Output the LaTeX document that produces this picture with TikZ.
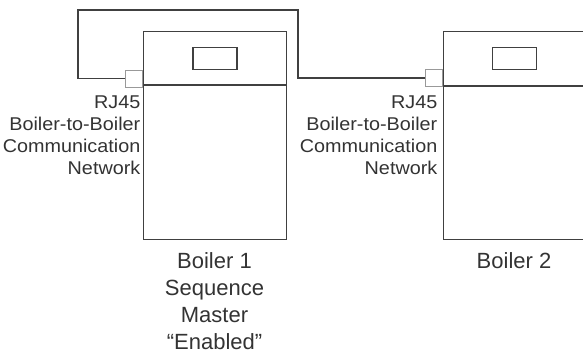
\documentclass[tikz,border=0pt]{standalone}
\usepackage{fontspec}
\setmainfont{Liberation Sans}
\newfontfamily\widesans{Liberation Sans}[FakeStretch=1.07]
\begin{document}
\begin{tikzpicture}[x=1pt,y=-1pt,
  line/.style={draw=black!75,line width=1.3pt},
  boiler/.style={line,rectangle,anchor=north west,minimum width=143pt,minimum height=208pt,inner sep=0pt},
  display/.style={line,rectangle,minimum width=44pt,minimum height=22pt,inner sep=0pt},
  port/.style={draw=black!40,line width=1pt,rectangle,minimum width=17pt,minimum height=17pt,inner sep=0pt,fill=white},
  sidelabel/.style={align=right,anchor=north east,inner sep=0pt,text=black!80,font=\widesans\fontsize{18.5}{22}\selectfont},
  botlabel/.style={align=center,anchor=north,inner sep=0pt,text=black!80,font=\fontsize{22}{27}\selectfont}]
\useasboundingbox (0,0) rectangle (583,356);
% Boiler 1
\node[boiler] (b1) at (143,31) {};
\node[display] (d1) at (215,58.5) {};
\coordinate (b1l) at (143,85);
\coordinate (b1r) at (286,85);
\draw[line] (b1l) -- (b1r);
\node[port,anchor=east] (p1) at (143,78.5) {};
% Boiler 2
\node[boiler,minimum width=145pt] (b2) at (443,31) {};
\node[display] (d2) at (514.5,58.5) {};
\coordinate (b2l) at (443,86);
\coordinate (b2r) at (590,86);
\draw[line] (b2l) -- (b2r);
\node[port,anchor=east] (p2) at (443,78) {};
% Wire
\coordinate (w1) at (78,78.5);
\coordinate (w2) at (78,10);
\coordinate (w3) at (298,10);
\coordinate (w4) at (298,78);
\draw[line] (p1.west) -- (w1) -- (w2) -- (w3) -- (w4) -- (p2.west);
% Labels
\node[sidelabel] (l1) at (140.5,96) {RJ45\\Boiler-to-Boiler\\Communication\\Network};
\node[sidelabel] (l2) at (437.5,96) {RJ45\\Boiler-to-Boiler\\Communication\\Network};
\node[botlabel] (n1) at (214.5,252) {Boiler 1\\Sequence\\Master\\“Enabled”};
\node[botlabel] (n2) at (514,252) {Boiler 2};
\end{tikzpicture}
\end{document}
